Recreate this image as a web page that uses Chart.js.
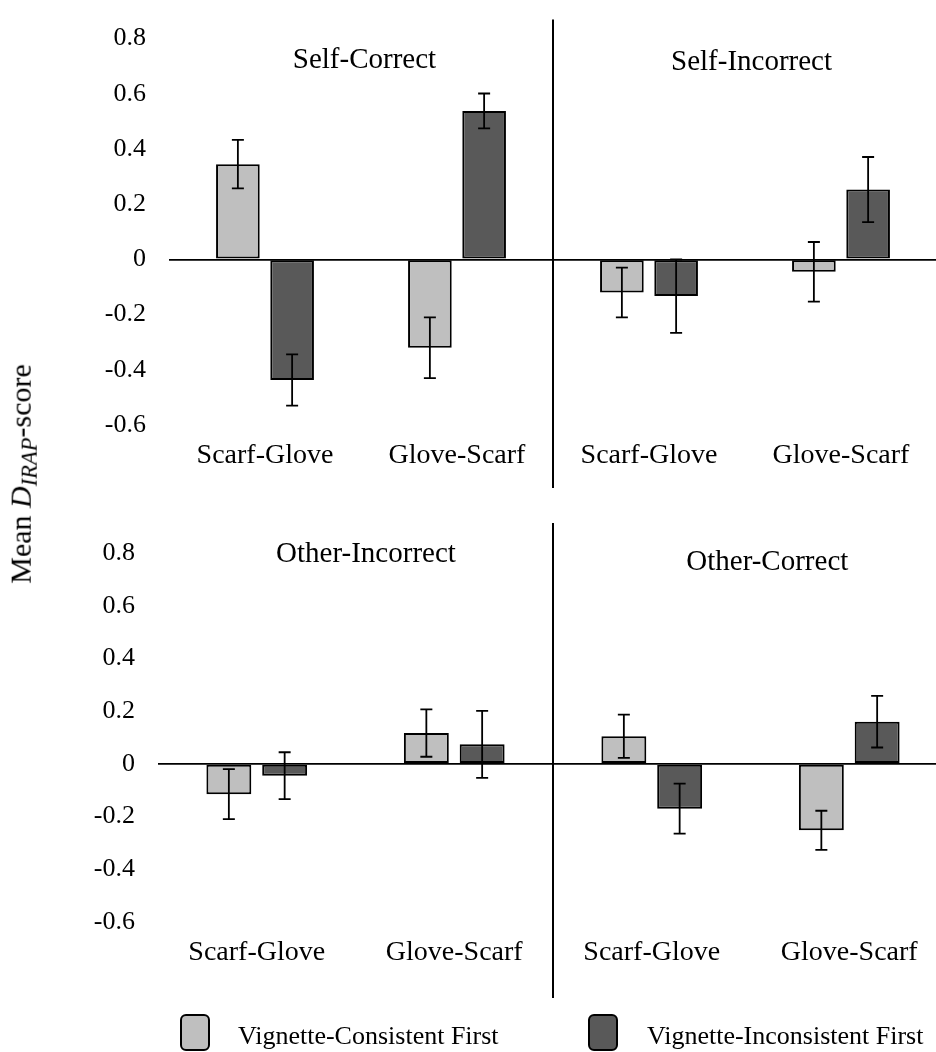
<!DOCTYPE html>
<html>
<head>
<meta charset="utf-8">
<script src="https://cdn.jsdelivr.net/npm/chart.js@4.4.1/dist/chart.umd.min.js"></script>
<style>
  html, body { margin: 0; padding: 0; background: #fff; overflow: hidden; }
  #pagina { position: relative; width: 936px; height: 1052px; overflow: hidden; font-family: "Liberation Serif", "Times New Roman", serif; color: #000; }
  canvas { position: absolute; left: 0; }
  #tituloY { position: absolute; left: 23px; top: 474px; transform: translate(-50%, -50%) rotate(-90deg); white-space: nowrap; font-size: 30px; }
  #tituloY sub { font-size: 0.75em; vertical-align: -0.25em; }
  .caja-ley { position: absolute; top: 1014px; width: 26px; height: 33px; border: 2px solid #000; border-radius: 6px; }
  .txt-ley { position: absolute; top: 1023px; font-size: 26px; line-height: 26px; white-space: nowrap; }
</style>
</head>
<body>
<div id="pagina">
  <canvas id="graficaArriba" width="937" height="500" style="top:0px"></canvas>
  <canvas id="graficaAbajo" width="948" height="552" style="top:500px"></canvas>
  <div id="tituloY">Mean <i>D</i><sub><i>IRAP</i></sub>-score</div>
</div>
<script>
// categorias y series
const categorias = ['Scarf-Glove', 'Glove-Scarf', 'Scarf-Glove', 'Glove-Scarf'];
const nombresSeries = ['Vignette-Consistent First', 'Vignette-Inconsistent First'];
const colores = ['#BFBFBF', '#595959'];

/* fila de arriba: Self-Correct | Self-Incorrect */
const titulosArriba = ['Self-Correct', 'Self-Incorrect'];
const arribaConsistente = [0.345, -0.32, -0.12, -0.045];
const arribaConsistenteErr = [0.088, 0.11, 0.09, 0.108];
const arribaInconsistente = [-0.437, 0.538, -0.133, 0.253];
const arribaInconsistenteErr = [0.093, 0.063, 0.133, 0.118];

/* fila de abajo: Other-Incorrect | Other-Correct */
const titulosAbajo = ['Other-Incorrect', 'Other-Correct'];
const abajoConsistente = [-0.115, 0.117, 0.105, -0.252];
const abajoConsistenteErr = [0.095, 0.09, 0.082, 0.074];
const abajoInconsistente = [-0.045, 0.074, -0.17, 0.16];
const abajoInconsistenteErr = [0.089, 0.127, 0.095, 0.098];

// eje y
const yMin = -0.6;
const yMax = 0.8;
const yPaso = 0.2;

const fuente = '"Liberation Serif", "Times New Roman", serif';

// barras de error, linea divisoria y titulos de cada panel
const decoPanel = {
  id: 'decoPanel',
  afterDatasetsDraw(chart, args, opts) {
    const ctx = chart.ctx;
    const area = chart.chartArea;
    const x = chart.scales.x;
    const y = chart.scales.y;

    ctx.save();
    ctx.strokeStyle = '#000';
    ctx.lineWidth = 1.8;
    chart.data.datasets.forEach((ds, i) => {
      chart.getDatasetMeta(i).data.forEach((barra, j) => {
        const v = ds.data[j];
        const e = ds.errores[j];
        const yA = y.getPixelForValue(v + e);
        const yB = y.getPixelForValue(v - e);
        const bx = barra.x;
        ctx.beginPath();
        ctx.moveTo(bx, yA); ctx.lineTo(bx, yB);
        ctx.moveTo(bx - 6, yA); ctx.lineTo(bx + 6, yA);
        ctx.moveTo(bx - 6, yB); ctx.lineTo(bx + 6, yB);
        ctx.stroke();
      });
    });

    // divisoria vertical entre los dos paneles
    const xd = Math.round(x.getPixelForValue(1.5));
    ctx.lineWidth = 2;
    ctx.beginPath();
    ctx.moveTo(xd, area.top - opts.divArriba);
    ctx.lineTo(xd, area.bottom + opts.divAbajo);
    ctx.stroke();

    ctx.fillStyle = '#000';
    ctx.font = '29px ' + fuente;
    ctx.textAlign = 'center';
    ctx.textBaseline = 'middle';
    opts.titulos.forEach(t => {
      ctx.fillText(t.texto, x.getPixelForValue(t.x), y.getPixelForValue(t.y));
    });
    ctx.restore();
  }
};

function armarGrafica(idCanvas, consist, consistErr, inconsist, inconsistErr, titulos, medidas) {
  const lienzo = document.getElementById(idCanvas);
  return new Chart(lienzo.getContext('2d'), {
    type: 'bar',
    data: {
      labels: categorias,
      datasets: [{
        label: nombresSeries[0],
        data: consist,
        errores: consistErr,
        backgroundColor: colores[0],
        borderColor: '#000',
        borderWidth: 2,
        borderSkipped: false,
        categoryPercentage: 0.565,
        barPercentage: 0.805
      }, {
        label: nombresSeries[1],
        data: inconsist,
        errores: inconsistErr,
        backgroundColor: colores[1],
        borderColor: '#000',
        borderWidth: 2,
        borderSkipped: false,
        categoryPercentage: 0.565,
        barPercentage: 0.805
      }]
    },
    options: {
      responsive: false,
      devicePixelRatio: 1,
      animation: false,
      layout: { padding: { top: medidas.arriba, left: 0, right: 0, bottom: 0 } },
      plugins: {
        legend: { display: false },
        tooltip: { enabled: false },
        decoPanel: {
          divArriba: medidas.divArriba,
          divAbajo: medidas.divAbajo,
          titulos: titulos
        }
      },
      scales: {
        x: {
          grid: { display: false, drawTicks: false },
          border: { display: false },
          ticks: {
            color: '#000',
            padding: 14,
            maxRotation: 0,
            autoSkip: false,
            font: { family: fuente, size: 28 }
          },
          afterFit: (s) => { s.height = medidas.altoX; }
        },
        y: {
          min: yMin,
          max: yMax,
          border: { display: false },
          grid: {
            drawTicks: false,
            lineWidth: 1.8,
            color: (c) => Math.abs(c.tick.value) < 1e-9 ? '#000' : 'rgba(0,0,0,0)'
          },
          ticks: {
            stepSize: yPaso,
            color: '#000',
            padding: 23,
            font: { family: fuente, size: 26 },
            callback: (v) => Math.abs(v) < 1e-9 ? '0' : Number(v).toFixed(1)
          },
          afterFit: (s) => { s.width = medidas.anchoY; }
        }
      }
    },
    plugins: [decoPanel]
  });
}

armarGrafica('graficaArriba', arribaConsistente, arribaConsistenteErr, arribaInconsistente, arribaInconsistenteErr,
  [{ texto: titulosArriba[0], x: 0.518, y: 0.72 }, { texto: titulosArriba[1], x: 2.534, y: 0.712 }],
  { arriba: 32, anchoY: 169, altoX: 75, divArriba: 19, divAbajo: 63 });

armarGrafica('graficaAbajo', abajoConsistente, abajoConsistenteErr, abajoInconsistente, abajoInconsistenteErr,
  [{ texto: titulosAbajo[0], x: 0.553, y: 0.793 }, { texto: titulosAbajo[1], x: 2.585, y: 0.766 }],
  { arriba: 53, anchoY: 158, altoX: 130, divArriba: 30, divAbajo: 76 });

/* LEYENDA */
const pagina = document.getElementById('pagina');
const posLeyenda = [{ caja: 180, texto: 238 }, { caja: 588, texto: 647 }];
nombresSeries.forEach((nombre, i) => {
  let caja = document.createElement('div');
  caja.className = 'caja-ley';
  caja.style.left = posLeyenda[i].caja + 'px';
  caja.style.background = colores[i];
  pagina.appendChild(caja);

  let txt = document.createElement('div');
  txt.className = 'txt-ley';
  txt.style.left = posLeyenda[i].texto + 'px';
  txt.textContent = nombre;
  pagina.appendChild(txt);
});
</script>
</body>
</html>
